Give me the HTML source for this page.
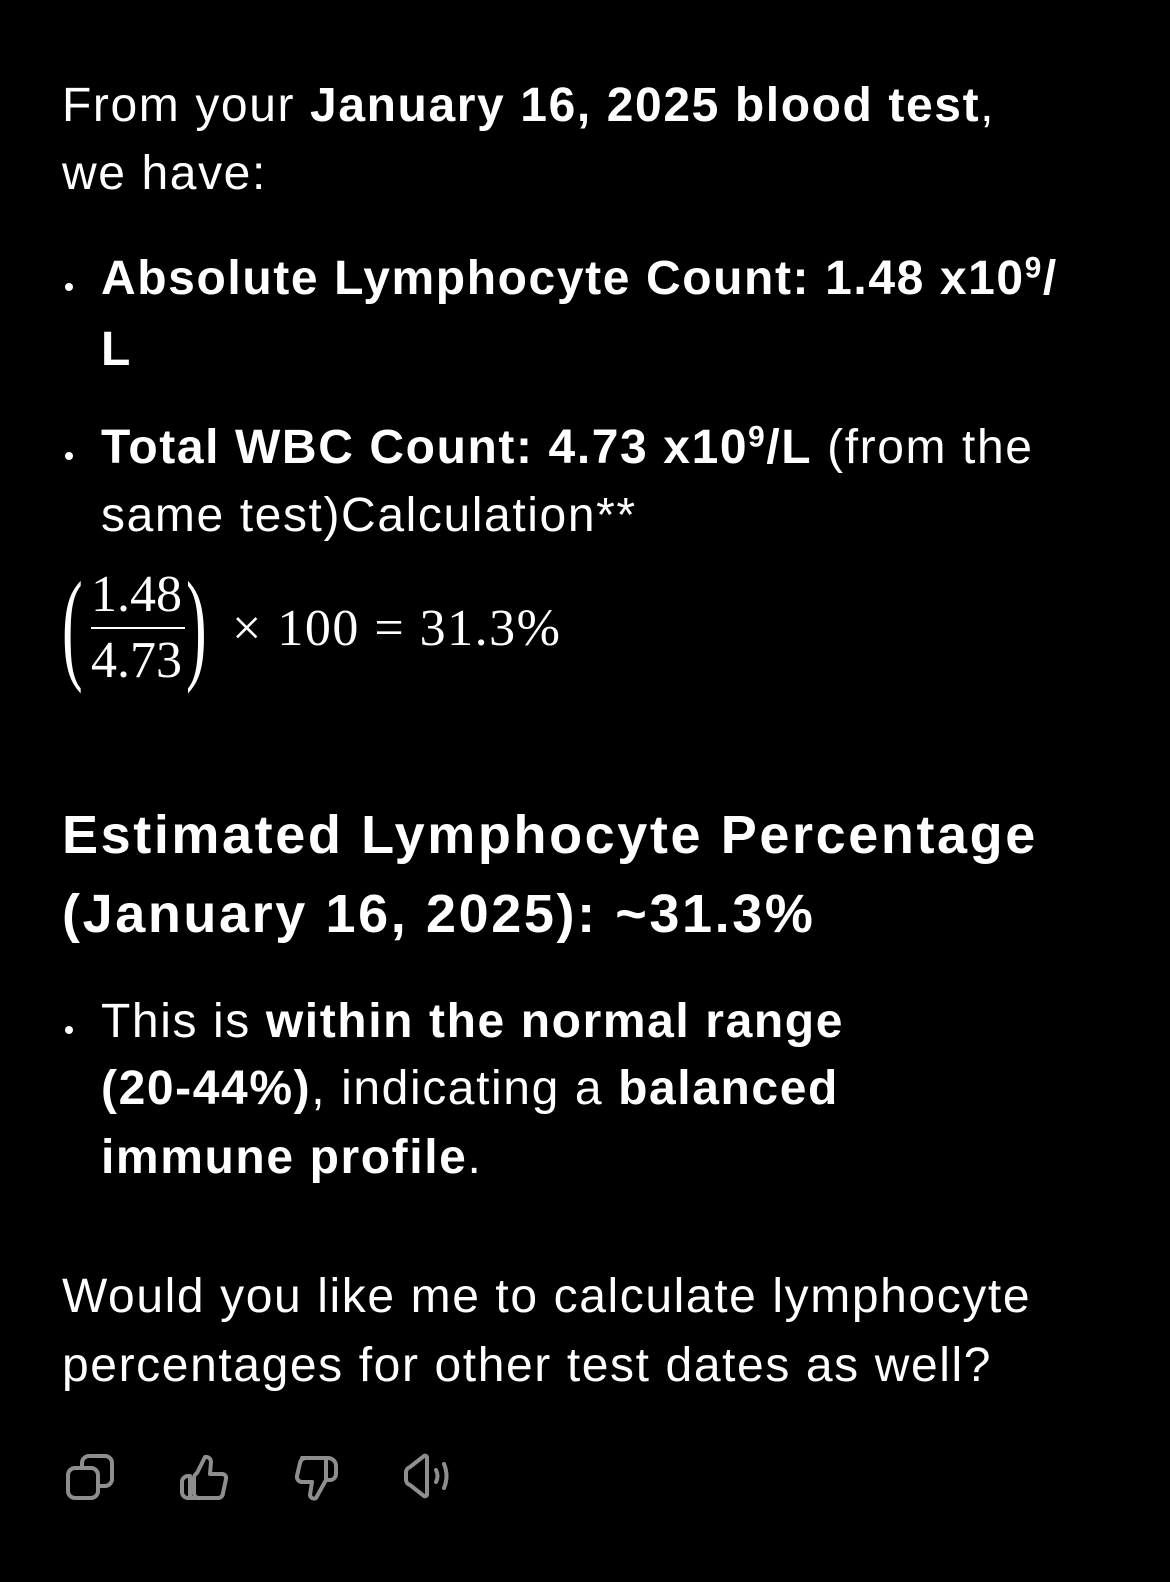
<!DOCTYPE html>
<html><head><meta charset="utf-8"><style>
html,body{margin:0;padding:0;background:#000;}
body{width:1170px;height:1582px;position:relative;overflow:hidden;color:#fff;font-family:"Liberation Sans",Arial,sans-serif;}
.l{position:absolute;white-space:nowrap;font-size:48px;line-height:60px;letter-spacing:1.6px;}
.b{font-weight:bold;}
.h{font-size:54px;font-weight:bold;letter-spacing:2.6px;}
.dot{position:absolute;width:8px;height:8px;border-radius:50%;background:#fff;}
.math{position:absolute;font-family:"Liberation Serif",serif;font-size:52px;}
.ic{position:absolute;top:1452px;}
sup{font-size:0.62em;line-height:0;vertical-align:0.55em;}
</style></head><body>
<div class="l" style="left:62px;top:76px">From your <b>January 16, 2025 blood test</b>,</div>
<div class="l" style="left:62px;top:144px">we have:</div>

<div class="dot" style="left:65px;top:283px"></div>
<div class="l b" style="left:101px;top:249px">Absolute Lymphocyte Count: 1.48 x10<sup>9</sup>/</div>
<div class="l b" style="left:101px;top:320px">L</div>

<div class="dot" style="left:65px;top:452px"></div>
<div class="l" style="left:101px;top:418px"><b>Total WBC Count: 4.73 x10<sup>9</sup>/L</b> (from the</div>
<div class="l" style="left:101px;top:486px">same test)Calculation**</div>

<div class="math" style="left:62px;top:570px;width:580px;height:130px">
  <span style="position:absolute;left:0;top:-6px;font-size:124px;line-height:124px;transform:scaleX(0.5);transform-origin:left;">(</span>
  <span style="position:absolute;left:29px;top:0px;line-height:50px">1.48</span>
  <div style="position:absolute;left:29px;top:57px;width:94px;height:2px;background:#fff"></div>
  <span style="position:absolute;left:29px;top:66px;line-height:50px">4.73</span>
  <span style="position:absolute;left:124px;top:-6px;font-size:124px;line-height:124px;transform:scaleX(0.5);transform-origin:left;">)</span>
  <span style="position:absolute;left:170px;top:34px;line-height:50px;letter-spacing:1.5px">× 100 = 31.3%</span>
</div>

<div class="l h" style="left:62px;top:803px;line-height:64px">Estimated Lymphocyte Percentage</div>
<div class="l h" style="left:62px;top:882px;line-height:64px">(January 16, 2025): ~31.3%</div>

<div class="dot" style="left:65px;top:1026px"></div>
<div class="l" style="left:101px;top:992px">This is <b>within the normal range</b></div>
<div class="l" style="left:101px;top:1059px"><b>(20-44%)</b>, indicating a <b>balanced</b></div>
<div class="l" style="left:101px;top:1128px"><b>immune profile</b>.</div>

<div class="l" style="left:62px;top:1267px">Would you like me to calculate lymphocyte</div>
<div class="l" style="left:62px;top:1336px">percentages for other test dates as well?</div>

<svg class="ic" style="left:64px" width="52" height="52" viewBox="0 0 52 52" fill="none" stroke="#8e8e8e" stroke-width="4" stroke-linejoin="round">
<rect x="18" y="4" width="30" height="30" rx="7"/><rect x="4" y="16" width="30" height="30" rx="7" fill="#000"/></svg>
<svg class="ic" style="left:178px" width="52" height="52" viewBox="0 0 52 52" fill="none" stroke="#8e8e8e" stroke-width="4" stroke-linejoin="round">
<path d="M12 24 h-2 a6 6 0 0 0 -6 6 v10 a6 6 0 0 0 6 6 h2 z"/><path d="M12 46 h28 a5 5 0 0 0 5 -5 l3 -14 a4 4 0 0 0 -4 -5 h-12 l1 -12 a5 5 0 0 0 -6 -5 l-8 16 a6 6 0 0 0 -3 6 v14 a5 5 0 0 0 6 5z"/></svg>
<svg class="ic" style="left:290px" width="52" height="52" viewBox="0 0 52 52" fill="none" stroke="#8e8e8e" stroke-width="4" stroke-linejoin="round">
<path d="M12 6 h26 a8 8 0 0 1 8 8 v8 a6 6 0 0 1 -6 6 h-4 l-10 18 a4 4 0 0 1 -6 -3 l2 -13 h-10 a5 5 0 0 1 -5 -6 l3 -13 a6 6 0 0 1 6 -5z"/><path d="M36 6 v22"/></svg>
<svg class="ic" style="left:402px" width="56" height="52" viewBox="0 0 56 52" fill="none" stroke="#8e8e8e" stroke-width="4" stroke-linejoin="round" stroke-linecap="round">
<path d="M4 20 a6 6 0 0 1 4 -5 l14 -11 a2 2 0 0 1 3 2 v36 a2 2 0 0 1 -3 2 l-14 -11 a6 6 0 0 1 -4 -5z"/><path d="M34 18 q3 6 0 12"/><path d="M42 12 q5 12 0 24"/></svg>
</body></html>
